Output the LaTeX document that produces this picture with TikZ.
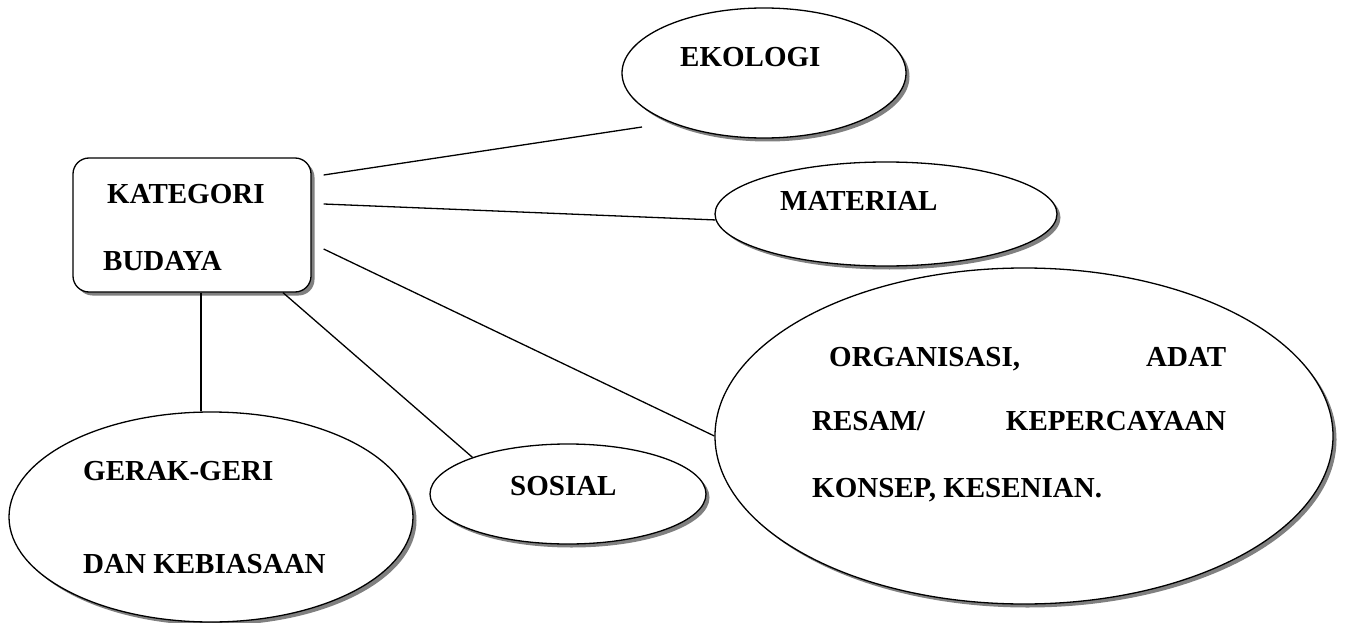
\documentclass[tikz,border=0pt]{standalone}
\usepackage{fontspec}
\setmainfont{Liberation Serif}
\usetikzlibrary{shapes.geometric,shadows}
\begin{document}
\begin{tikzpicture}[x=1pt,y=-1pt,
  shp/.style={draw=black, line width=1.3pt, fill=white, inner sep=0pt,
     drop shadow={shadow xshift=3.5pt, shadow yshift=-3.5pt, fill=black!50, opacity=1}},
  ell/.style={shp, ellipse},
  txt/.style={font=\fontsize{29}{35}\selectfont\bfseries, inner sep=0pt},
  conn/.style={line width=1.3pt}]
\fill[white] (0,0) rectangle (1346,623);
\useasboundingbox (0,0) rectangle (1346,623);

% shapes
\node[shp, rounded corners=16pt, minimum width=238pt, minimum height=134pt] (box) at (192,225) {};
\node[ell, minimum width=284pt, minimum height=130pt] (eko) at (764,73) {};
\node[ell, minimum width=342pt, minimum height=104pt] (mat) at (886,214) {};
\node[ell, minimum width=618pt, minimum height=336pt] (big) at (1024,436) {};
\node[ell, minimum width=276pt, minimum height=100pt] (sos) at (568,494) {};
\node[ell, minimum width=404pt, minimum height=210pt] (ger) at (211,517) {};

% texts
\node[txt, anchor=base west] (t1) at (107,203) {KATEGORI};
\node[txt, anchor=base west] (t2) at (103,270) {BUDAYA};
\node[txt, anchor=base west] (t3) at (680,67) {EKOLOGI};
\node[txt, anchor=base west] (t4) at (780,210) {MATERIAL};
\node[txt, anchor=base west] (t5) at (510,495) {SOSIAL};
\node[txt, anchor=base west] (t6) at (83,480) {GERAK-GERI};
\node[txt, anchor=base west] (t7) at (83,573) {DAN KEBIASAAN};
\node[txt, anchor=base west] (t8) at (812,366) {\makebox[414pt][l]{\hspace{17pt}ORGANISASI,\hfill ADAT}};
\node[txt, anchor=base west] (t9) at (812,430) {\makebox[414pt][l]{RESAM/\hfill KEPERCAYAAN}};
\node[txt, anchor=base west] (t10) at (812,497) {KONSEP, KESENIAN.};

% connectors
\coordinate (g0) at ([xshift=9pt]box.south);
\coordinate (e1) at ([xshift=-122pt,yshift=-54pt]eko.center);
\draw[conn] ([xshift=12pt,yshift=50pt]box.east) -- (e1);
\draw[conn] ([xshift=12pt,yshift=21pt]box.east) -- (mat.182);
\draw[conn] ([xshift=12pt,yshift=-24pt]box.east) -- (big.west);
\draw[conn] ([xshift=91pt]box.south) -- (sos.159);
\draw[conn] (g0) -- (g0 |- ger.north);
\end{tikzpicture}
\end{document}
